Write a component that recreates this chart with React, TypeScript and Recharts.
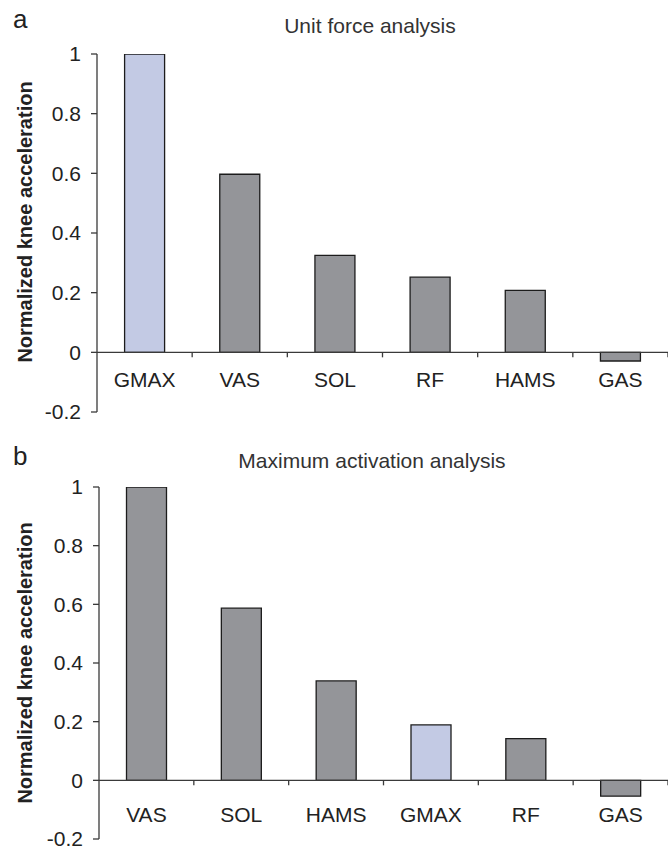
import { Bar, BarChart, Cell, ReferenceLine, XAxis, YAxis } from "recharts";

const unitCategories = ["GMAX", "VAS", "SOL", "RF", "HAMS", "GAS"];
const unitValues = [1.0, 0.597, 0.325, 0.252, 0.208, -0.029];

const maxCategories = ["VAS", "SOL", "HAMS", "GMAX", "RF", "GAS"];
const maxValues = [1.0, 0.587, 0.339, 0.189, 0.142, -0.054];

const yTicks = [-0.2, 0, 0.2, 0.4, 0.6, 0.8, 1];
const highlight = "GMAX";

const FONT = "'Liberation Sans', Arial, sans-serif";
const GREY = "#949599";
const BLUE = "#c3cae4";
const INK = "#222";
const AXIS = "#3a3a3a";

const W = 668;

function CategoryTick(props: any) {
  const { x, payload, index, zeroY, gap, half, count } = props;
  const h = payload?.offset ?? half;
  return (
    <g>
      {index > 0 && <line x1={x - h} x2={x - h} y1={zeroY} y2={zeroY + 5} stroke={AXIS} strokeWidth={1.3} />}
      {index === count - 1 && <line x1={x + h} x2={x + h} y1={zeroY} y2={zeroY + 5} stroke={AXIS} strokeWidth={1.3} />}
      <text x={x} y={zeroY + gap} textAnchor="middle" fontSize={21} fontFamily={FONT} fill={INK}>
        {payload.value}
      </text>
    </g>
  );
}

function Panel({
  categories,
  values,
  height,
  top,
  bottom,
  axisWidth,
  labelGap,
  labelCenter,
}: {
  categories: string[];
  values: number[];
  height: number;
  top: number;
  bottom: number;
  axisWidth: number;
  labelGap: number;
  labelCenter: number;
}) {
  const data = categories.map((name, i) => ({ name, value: values[i] }));
  const plotH = height - top - bottom;
  const zeroY = top + plotH * (1 / 1.2);
  const half = (W - axisWidth) / categories.length / 2;

  const yLabel = () => (
    <text
      x={25}
      y={labelCenter}
      transform={`rotate(-90 25 ${labelCenter})`}
      textAnchor="middle"
      dominantBaseline="central"
      fontSize={20}
      fontWeight="bold"
      fontFamily={FONT}
      fill={INK}
    >
      Normalized knee acceleration
    </text>
  );

  return (
    <BarChart
      width={W}
      height={height}
      data={data}
      margin={{ top, right: 0, left: 0, bottom: bottom - 1 }}
      barCategoryGap="29%"
    >
      <XAxis
        dataKey="name"
        height={1}
        axisLine={false}
        tickLine={false}
        interval={0}
        tick={<CategoryTick zeroY={zeroY} gap={labelGap} half={half} count={categories.length} />}
      />
      <YAxis
        width={axisWidth}
        domain={[-0.2, 1]}
        ticks={yTicks}
        interval={0}
        allowDataOverflow
        tickSize={6}
        tickMargin={10}
        axisLine={{ stroke: AXIS, strokeWidth: 1.3 }}
        tickLine={{ stroke: AXIS, strokeWidth: 1.3 }}
        tick={{ fontSize: 21, fill: INK, fontFamily: FONT }}
        label={yLabel}
      />
      <Bar dataKey="value" stroke="#1c1c1c" strokeWidth={1.3} isAnimationActive={false}>
        {data.map((d) => (
          <Cell key={d.name} fill={d.name === highlight ? BLUE : GREY} />
        ))}
      </Bar>
      <ReferenceLine y={0} stroke={AXIS} strokeWidth={1.3} ifOverflow="visible" />
    </BarChart>
  );
}

export default function App() {
  return (
    <div style={{ position: "absolute", left: 0, top: 0, width: W, height: 851, background: "#fff" }}>
      <div style={{ position: "absolute", left: 0, top: 0 }}>
        <Panel
          categories={unitCategories}
          values={unitValues}
          height={430}
          top={54}
          bottom={18}
          axisWidth={97}
          labelGap={35}
          labelCenter={222}
        />
      </div>
      <div style={{ position: "absolute", left: 0, top: 430 }}>
        <Panel
          categories={maxCategories}
          values={maxValues}
          height={421}
          top={57}
          bottom={12}
          axisWidth={99}
          labelGap={42}
          labelCenter={233}
        />
      </div>
      <svg width={W} height={851} style={{ position: "absolute", left: 0, top: 0, pointerEvents: "none" }}>
        <text x={13} y={28} fontSize={26} fontFamily={FONT} fill={INK}>a</text>
        <text x={370} y={33} textAnchor="middle" fontSize={21} fontFamily={FONT} fill="#333">
          Unit force analysis
        </text>
        <text x={13} y={465} fontSize={26} fontFamily={FONT} fill={INK}>b</text>
        <text x={372} y={468} textAnchor="middle" fontSize={21} fontFamily={FONT} fill="#333">
          Maximum activation analysis
        </text>
      </svg>
    </div>
  );
}
